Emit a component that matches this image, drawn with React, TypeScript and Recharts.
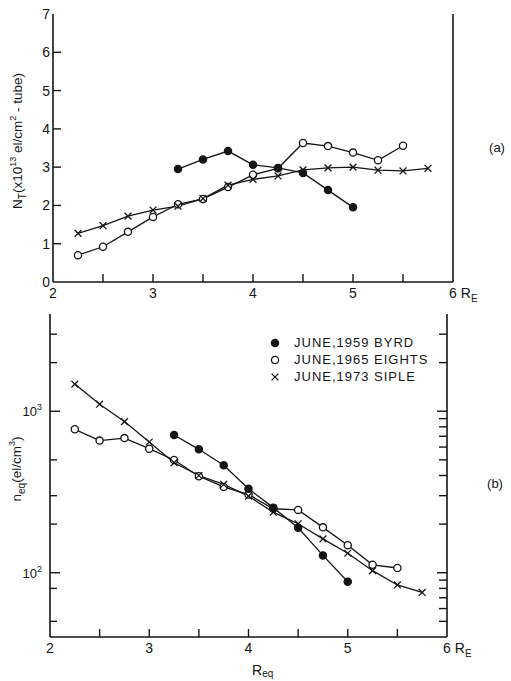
import { LineChart, Line, XAxis, YAxis, Legend, Label } from "recharts";

const FONT = '"Liberation Sans", Arial, sans-serif';
const INK = "#151515";

// R (Earth radii) for each station
const BYRD_R = [3.25, 3.5, 3.75, 4, 4.25, 4.5, 4.75, 5];
const EIGHTS_R = [2.25, 2.5, 2.75, 3, 3.25, 3.5, 3.75, 4, 4.25, 4.5, 4.75, 5, 5.25, 5.5];
const SIPLE_R = [2.25, 2.5, 2.75, 3, 3.25, 3.5, 3.75, 4, 4.25, 4.5, 4.75, 5, 5.25, 5.5, 5.75];

// (a) tube content, x10^13 el/cm^2-tube
const BYRD_NT = [2.95, 3.2, 3.42, 3.06, 2.98, 2.85, 2.4, 1.95];
const EIGHTS_NT = [0.7, 0.92, 1.31, 1.7, 2.03, 2.17, 2.48, 2.8, 2.97, 3.63, 3.55, 3.38, 3.18, 3.56];
const SIPLE_NT = [1.27, 1.47, 1.72, 1.88, 1.98, 2.18, 2.53, 2.68, 2.77, 2.93, 2.98, 3.0, 2.92, 2.9, 2.97];

// (b) equatorial density, el/cm^3
const BYRD_NEQ = [713, 581, 463, 331, 253, 190, 128, 88];
const EIGHTS_NEQ = [773, 658, 682, 586, 499, 396, 340, 305, 249, 245, 191, 148, 112, 107];
const SIPLE_NEQ = [1472, 1105, 863, 645, 480, 400, 352, 298, 237, 201, 162, 132, 103, 84, 75.5];

const R_TICKS = [2, 2.5, 3, 3.5, 4, 4.5, 5, 5.5, 6];
const NT_TICKS = [0, 1, 2, 3, 4, 5, 6, 7];
const NEQ_LEFT_TICKS = [50, 80, 100, 200, 300, 500, 1000, 2000, 3000];
const NEQ_RIGHT_TICKS = [50, 60, 70, 80, 90, 100, 200, 300, 400, 500, 600, 700, 800, 900, 1000, 2000, 3000];
const NEQ_EXPONENTS: Record<number, string> = { 100: "2", 1000: "3" };

const LEGEND = [
  { label: "JUNE,1959 BYRD", kind: "filled" },
  { label: "JUNE,1965 EIGHTS", kind: "open" },
  { label: "JUNE,1973 SIPLE", kind: "cross" },
];

const zip = (rs: number[], vs: number[]) => rs.map((r, i) => ({ r, v: vs[i] }));

const AXIS_LINE = { stroke: INK, strokeWidth: 1.6 };
const TXT = { fontFamily: FONT, fill: INK };

function Mark({ cx, cy, kind }: any) {
  if (cx == null || cy == null) return null;
  if (kind === "cross") {
    const s = 3.4;
    return (
      <g stroke={INK} strokeWidth={1.3}>
        <line x1={cx - s} y1={cy - s} x2={cx + s} y2={cy + s} />
        <line x1={cx - s} y1={cy + s} x2={cx + s} y2={cy - s} />
      </g>
    );
  }
  return (
    <circle cx={cx} cy={cy} r={3.6} fill={kind === "filled" ? INK : "#fff"} stroke={INK} strokeWidth={1.3} />
  );
}

const dotOf = (kind: string) => (p: any) => <Mark key={p.index} cx={p.cx} cy={p.cy} kind={kind} />;

function BottomTick({ x, y, payload }: any) {
  const v = payload.value;
  const inner = v > 2 && v < 6;
  return (
    <g>
      {inner && <line x1={x} y1={y} x2={x} y2={y - 8} stroke={INK} strokeWidth={1.4} />}
      {Number.isInteger(v) && v !== 6 && (
        <text x={x} y={y + 16} textAnchor="middle" fontSize={14} {...TXT}>
          {v}
        </text>
      )}
      {v === 6 && (
        <text x={x - 4} y={y + 16} fontSize={14} {...TXT}>
          6<tspan dx={4}>R</tspan>
          <tspan dy={4} fontSize={10}>E</tspan>
        </text>
      )}
    </g>
  );
}

function TopTick({ x, y, payload }: any) {
  const v = payload.value;
  if (v <= 2 || v >= 6) return <g />;
  return <line x1={x} y1={y} x2={x} y2={y + 6} stroke={INK} strokeWidth={1.4} />;
}

function LinearLeftTick({ x, y, payload }: any) {
  const v = payload.value;
  const inner = v > 0 && v < 7;
  return (
    <g>
      {inner && <line x1={x} y1={y} x2={x + 8} y2={y} stroke={INK} strokeWidth={1.4} />}
      <text x={x - 3} y={y + 5} textAnchor="end" fontSize={14} {...TXT}>
        {v}
      </text>
    </g>
  );
}

function LinearRightTick({ x, y, payload }: any) {
  const v = payload.value;
  if (v <= 0 || v >= 7) return <g />;
  return <line x1={x} y1={y} x2={x - 8} y2={y} stroke={INK} strokeWidth={1.4} />;
}

function LogLeftTick({ x, y, payload }: any) {
  const v = payload.value;
  const exp = NEQ_EXPONENTS[v];
  return (
    <g>
      <line x1={x} y1={y} x2={x + (exp ? 10 : 7)} y2={y} stroke={INK} strokeWidth={1.4} />
      {exp && (
        <text x={x - 8} y={y + 5} textAnchor="end" fontSize={13} {...TXT}>
          10<tspan dy={-6} fontSize={9}>{exp}</tspan>
        </text>
      )}
    </g>
  );
}

function LogRightTick({ x, y, payload }: any) {
  const v = payload.value;
  const major = v === 100 || v === 1000;
  return <line x1={x} y1={y} x2={x - (major ? 10 : 8)} y2={y} stroke={INK} strokeWidth={1.4} />;
}

function LegendBox() {
  return (
    <div style={{ fontFamily: FONT, fontSize: 13, letterSpacing: 1, color: INK }}>
      {LEGEND.map((e) => (
        <div key={e.label} style={{ display: "flex", alignItems: "center", height: 17 }}>
          <svg width={12} height={12}>
            <Mark cx={6} cy={6} kind={e.kind} />
          </svg>
          <span style={{ marginLeft: 13, whiteSpace: "nowrap" }}>{e.label}</span>
        </div>
      ))}
    </div>
  );
}

function PanelA() {
  return (
    <LineChart width={511} height={310} margin={{ top: 14, right: 0, bottom: 10, left: 0 }}>
      <XAxis
        type="number"
        dataKey="r"
        domain={[2, 6]}
        ticks={R_TICKS}
        interval={0}
        height={18}
        tickSize={0}
        tickMargin={0}
        axisLine={AXIS_LINE}
        tickLine={false}
        tick={<BottomTick />}
      />
      <XAxis
        xAxisId="top"
        orientation="top"
        type="number"
        domain={[2, 6]}
        ticks={R_TICKS}
        interval={0}
        height={0}
        tickSize={0}
        tickMargin={0}
        axisLine={AXIS_LINE}
        tickLine={false}
        tick={<TopTick />}
      />
      <YAxis
        type="number"
        domain={[0, 7]}
        ticks={NT_TICKS}
        interval={0}
        width={53}
        tickSize={0}
        tickMargin={0}
        axisLine={AXIS_LINE}
        tickLine={false}
        tick={<LinearLeftTick />}
      >
        <Label
          content={() => (
            <text transform="translate(22, 141) rotate(-90)" textAnchor="middle" fontSize={13.5} {...TXT}>
              N<tspan dy={4} fontSize={10}>T</tspan>
              <tspan dy={-4}>(x10</tspan>
              <tspan dy={-6} fontSize={9}>13</tspan>
              <tspan dy={6}> el/cm</tspan>
              <tspan dy={-6} fontSize={9}>2</tspan>
              <tspan dy={6}> - tube)</tspan>
            </text>
          )}
        />
      </YAxis>
      <YAxis
        yAxisId="right"
        orientation="right"
        type="number"
        domain={[0, 7]}
        ticks={NT_TICKS}
        interval={0}
        width={58}
        tickSize={0}
        tickMargin={0}
        axisLine={AXIS_LINE}
        tickLine={false}
        tick={<LinearRightTick />}
      >
        <Label
          content={() => (
            <text x={497} y={152} textAnchor="middle" fontSize={13} {...TXT}>
              (a)
            </text>
          )}
        />
      </YAxis>
      <Line data={zip(EIGHTS_R, EIGHTS_NT)} dataKey="v" stroke={INK} strokeWidth={1.3} dot={dotOf("open")} isAnimationActive={false} />
      <Line data={zip(SIPLE_R, SIPLE_NT)} dataKey="v" stroke={INK} strokeWidth={1.3} dot={dotOf("cross")} isAnimationActive={false} />
      <Line data={zip(BYRD_R, BYRD_NT)} dataKey="v" stroke={INK} strokeWidth={1.3} dot={dotOf("filled")} isAnimationActive={false} />
    </LineChart>
  );
}

function PanelB() {
  return (
    <LineChart width={511} height={381} margin={{ top: 14, right: 0, bottom: 0, left: 0 }}>
      <XAxis
        type="number"
        dataKey="r"
        domain={[2, 6]}
        ticks={R_TICKS}
        interval={0}
        height={44}
        tickSize={0}
        tickMargin={0}
        axisLine={AXIS_LINE}
        tickLine={false}
        tick={<BottomTick />}
      >
        <Label
          content={() => (
            <text x={252} y={375} fontSize={14} {...TXT}>
              R<tspan dy={2} fontSize={10}>eq</tspan>
            </text>
          )}
        />
      </XAxis>
      <XAxis
        xAxisId="top"
        orientation="top"
        type="number"
        domain={[2, 6]}
        ticks={R_TICKS}
        interval={0}
        height={0}
        tickSize={0}
        tickMargin={0}
        axisLine={AXIS_LINE}
        tickLine={false}
        tick={<TopTick />}
      />
      <YAxis
        type="number"
        scale="log"
        domain={[40, 4000]}
        allowDataOverflow
        ticks={NEQ_LEFT_TICKS}
        interval={0}
        width={50}
        tickSize={0}
        tickMargin={0}
        axisLine={AXIS_LINE}
        tickLine={false}
        tick={<LogLeftTick />}
      >
        <Label
          content={() => (
            <text transform="translate(21, 169) rotate(-90)" textAnchor="middle" fontSize={13.5} {...TXT}>
              n<tspan dy={4} fontSize={10}>eq</tspan>
              <tspan dy={-4}>(el/cm</tspan>
              <tspan dy={-6} fontSize={9}>3</tspan>
              <tspan dy={6}>)</tspan>
            </text>
          )}
        />
      </YAxis>
      <YAxis
        yAxisId="right"
        orientation="right"
        type="number"
        scale="log"
        domain={[40, 4000]}
        allowDataOverflow
        ticks={NEQ_RIGHT_TICKS}
        interval={0}
        width={64}
        tickSize={0}
        tickMargin={0}
        axisLine={AXIS_LINE}
        tickLine={false}
        tick={<LogRightTick />}
      >
        <Label
          content={() => (
            <text x={495} y={188} textAnchor="middle" fontSize={13} {...TXT}>
              (b)
            </text>
          )}
        />
      </YAxis>
      <Legend
        layout="vertical"
        verticalAlign="middle"
        align="center"
        wrapperStyle={{ top: 34, left: 269, width: 200, height: 51 }}
        content={() => <LegendBox />}
      />
      <Line data={zip(EIGHTS_R, EIGHTS_NEQ)} dataKey="v" stroke={INK} strokeWidth={1.3} dot={dotOf("open")} isAnimationActive={false} />
      <Line data={zip(SIPLE_R, SIPLE_NEQ)} dataKey="v" stroke={INK} strokeWidth={1.3} dot={dotOf("cross")} isAnimationActive={false} />
      <Line data={zip(BYRD_R, BYRD_NEQ)} dataKey="v" stroke={INK} strokeWidth={1.3} dot={dotOf("filled")} isAnimationActive={false} />
    </LineChart>
  );
}

export default function App() {
  return (
    <div style={{ position: "absolute", left: 0, top: 0, width: 511, height: 681, background: "#fff" }}>
      <div style={{ position: "absolute", left: 0, top: 0 }}>
        <PanelA />
      </div>
      <div style={{ position: "absolute", left: 0, top: 300 }}>
        <PanelB />
      </div>
    </div>
  );
}
